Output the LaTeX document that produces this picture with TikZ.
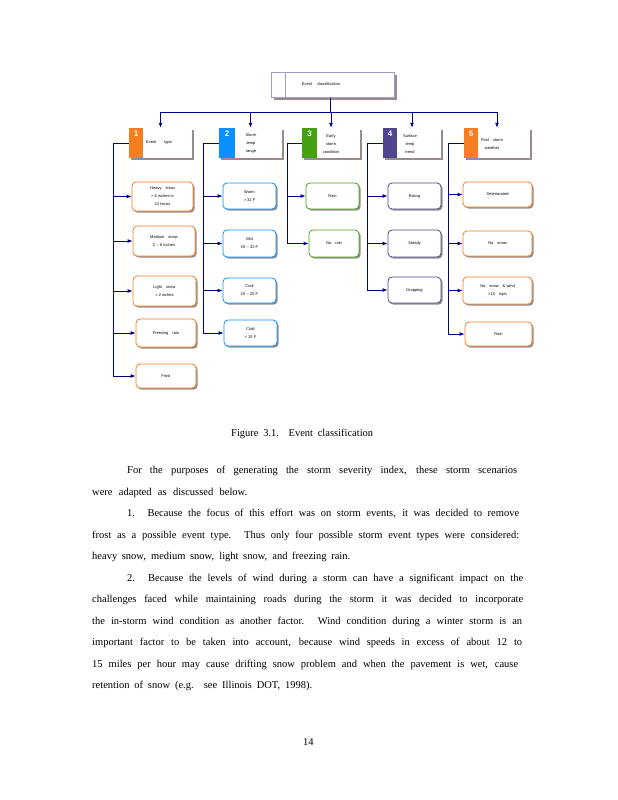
\documentclass[tikz,border=0pt]{standalone}
\usepackage{fontspec}
\setmainfont{Liberation Serif}
\newfontfamily\dfont{Liberation Sans}
\usetikzlibrary{arrows.meta,shadows}
\definecolor{navy}{HTML}{000080}
\definecolor{corange}{HTML}{F57E20}
\definecolor{cblue}{HTML}{0A90FF}
\definecolor{cgreen}{HTML}{45A012}
\definecolor{cpurple}{HTML}{4F468E}
\definecolor{shgray}{HTML}{968C8C}
\definecolor{lav}{HTML}{A898D0}
\tikzset{
 conn/.style={draw=navy, line width=0.9pt},
 arr/.style={conn, -{Latex[length=5pt,width=4pt]}},
 itembox/.style={draw=#1, line width=0.8pt, fill=white, rounded corners=4pt, inner sep=0pt,
   font=\dfont\fontsize{4}{8}\selectfont, align=center,
   drop shadow={shadow xshift=1.6pt,shadow yshift=-1.6pt,fill=shgray,opacity=1}},
 catbox/.style={fill=white, inner sep=0pt,
   drop shadow={shadow xshift=1.8pt,shadow yshift=-1.8pt,fill=shgray,opacity=1}},
 tabbox/.style={fill=#1, inner sep=0pt},
 topbox/.style={draw=lav, line width=1pt, fill=white, inner sep=0pt,
   drop shadow={shadow xshift=2.5pt,shadow yshift=-2.5pt,fill=shgray,opacity=1}},
 dtext/.style={font=\dfont\fontsize{4}{8}\selectfont, inner sep=0pt, align=center},
 numtext/.style={font=\dfont\bfseries\fontsize{8}{8}\selectfont, text=white, inner sep=0pt},
 body/.style={anchor=base west, inner sep=0pt, font=\fontsize{10.5}{12}\selectfont},
}
\newcommand{\boxat}[7]{% style, name, x1,y1,x2,y2, text
 \node[#1, minimum width={(#5-#3)*1pt}, minimum height={(#6-#4)*1pt}] (#2) at ({(#3+#5)/2},{(#4+#6)/2}) {#7};}
\newcommand{\jline}[4]{% x, baseline y, width, text
 \node[body] at (#1,#2) {\makebox[#3pt][s]{#4}};}
\begin{document}
\begin{tikzpicture}[x=1pt,y=-1pt]
\useasboundingbox (0,0) rectangle (618,800);
\fill[white] (0,0) rectangle (618,800);

% top box
\boxat{topbox}{top}{271}{72}{394}{97}{}
\draw[lav, line width=1pt] (285,72) -- (285,97);
\node[dtext] (toptext) at (321,84) {Event\quad\ classification};

% category boxes
\boxat{catbox}{c1}{129}{128}{192}{158}{}
\boxat{tabbox=corange}{t1}{129}{128}{143}{158}{}
\boxat{catbox}{c2}{219}{128}{282}{158}{}
\boxat{tabbox=cblue}{t2}{219}{128}{235}{158}{}
\boxat{catbox}{c3}{302}{128}{360}{158}{}
\boxat{tabbox=cgreen}{t3}{302}{128}{317}{158}{}
\boxat{catbox}{c4}{383}{128}{441}{158}{}
\boxat{tabbox=cpurple}{t4}{383}{128}{397}{158}{}
\boxat{catbox}{c5}{464}{128}{530}{158}{}
\boxat{tabbox=corange}{t5}{464}{128}{478}{158}{}

\node[numtext, anchor=north] (n1) at ([yshift=-3pt]t1.north) {1};
\node[numtext, anchor=north] (n2) at ([yshift=-3pt]t2.north) {2};
\node[numtext, anchor=north] (n3) at ([yshift=-3pt]t3.north) {3};
\node[numtext, anchor=north] (n4) at ([yshift=-3pt]t4.north) {4};
\node[numtext, anchor=north] (n5) at ([yshift=-3pt]t5.north) {5};

\node[dtext] (l1) at (159,143) {Event\quad\quad type};
\node[dtext] (l2) at (251,144) {Storm\\temp\\range};
\node[dtext] (l3) at (331,144) {Early\\storm\\condition};
\node[dtext] (l4) at (410,144) {Surface\\temp\\trend};
\node[dtext] (l5) at (492,144) {Post\quad storm\\weather};

% bus from top box
\coordinate (bus) at (330,112);
\draw[conn] (top.south -| bus) -- (bus);
\foreach \c in {c1,c2,c3,c4,c5}{
  \draw[arr] (bus) -| (\c.north);
}

% items category 1
\boxat{itembox=corange}{i1a}{132}{182}{193}{211}{Heavy\quad snow\\> 6 inches in\\24 hours}
\boxat{itembox=corange}{i1b}{133}{226}{195}{256}{Medium\quad snow\\2 -- 6 inches}
\boxat{itembox=corange}{i1c}{133}{276}{196}{306}{Light\quad snow\\< 2 inches}
\boxat{itembox=corange}{i1d}{136}{319}{196}{347}{Freezing\quad rain}
\boxat{itembox=corange}{i1e}{136}{364}{196}{388}{Frost}
\coordinate (v1) at (113,143);
\draw[conn] (c1.west) -- (v1);
\foreach \i in {i1a,i1b,i1c,i1d,i1e}{ \draw[arr] (v1) |- (\i.west); }

% items category 2
\boxat{itembox=cblue}{i2a}{223}{183}{276}{209}{Warm\\> 32 F}
\boxat{itembox=cblue}{i2b}{223}{230}{276}{257}{Mid\\25 -- 32 F}
\boxat{itembox=cblue}{i2c}{223}{278}{276}{303}{Cool\\15 -- 25 F}
\boxat{itembox=cblue}{i2d}{224}{320}{277}{346}{Cold\\< 15 F}
\coordinate (v2) at (203,143);
\draw[conn] (c2.west) -- (v2);
\foreach \i in {i2a,i2b,i2c,i2d}{ \draw[arr] (v2) |- (\i.west); }

% items category 3
\boxat{itembox=cgreen}{i3a}{306}{183}{359}{209}{Rain}
\boxat{itembox=cgreen}{i3b}{309}{230}{359}{257}{No\quad rain}
\coordinate (v3) at (287,143);
\draw[conn] (c3.west) -- (v3);
\foreach \i in {i3a,i3b}{ \draw[arr] (v3) |- (\i.west); }

% items category 4
\boxat{itembox=cpurple}{i4a}{388}{183}{441}{209}{Rising}
\boxat{itembox=cpurple}{i4b}{388}{230}{441}{257}{Steady}
\boxat{itembox=cpurple}{i4c}{388}{277}{441}{303}{Dropping}
\coordinate (v4) at (367,143);
\draw[conn] (c4.west) -- (v4);
\foreach \i in {i4a,i4b,i4c}{ \draw[arr] (v4) |- (\i.west); }

% items category 5
\boxat{itembox=corange}{i5a}{463}{182}{532}{207}{Deteriorated}
\boxat{itembox=corange}{i5b}{463}{231}{532}{256}{No\quad snow}
\boxat{itembox=corange}{i5c}{463}{277}{532}{304}{No\quad snow\quad \& wind\\>15\quad mph}
\boxat{itembox=corange}{i5d}{465}{322}{532}{346}{Rain}
\coordinate (v5) at (448,143);
\draw[conn] (c5.west) -- (v5);
\foreach \i in {i5a,i5b,i5c,i5d}{ \draw[arr] (v5) |- (\i.west); }

% caption and body text
\node[body] (cap) at (231,436) {\makebox[142pt][s]{Figure 3.1. Event classification}};
\jline{127}{473}{390}{For the purposes of generating the storm severity index, these storm scenarios}
\jline{92}{495}{155}{were adapted as discussed below.}
\jline{127}{516}{392}{1. Because the focus of this effort was on storm events, it was decided to remove}
\jline{92}{538}{427}{frost as a possible event type. Thus only four possible storm event types were considered:}
\jline{92}{559}{258}{heavy snow, medium snow, light snow, and freezing rain.}
\jline{127}{581}{396}{2. Because the levels of wind during a storm can have a significant impact on the}
\jline{92}{602}{431}{challenges faced while maintaining roads during the storm it was decided to incorporate}
\jline{92}{624}{430}{the in-storm wind condition as another factor. Wind condition during a winter storm is an}
\jline{92}{645}{430}{important factor to be taken into account, because wind speeds in excess of about 12 to}
\jline{92}{667}{426}{15 miles per hour may cause drifting snow problem and when the pavement is wet, cause}
\jline{92}{688}{220}{retention of snow (e.g. see Illinois DOT, 1998).}
\node[body] (pg) at (303,745) {14};
\end{tikzpicture}
\end{document}
